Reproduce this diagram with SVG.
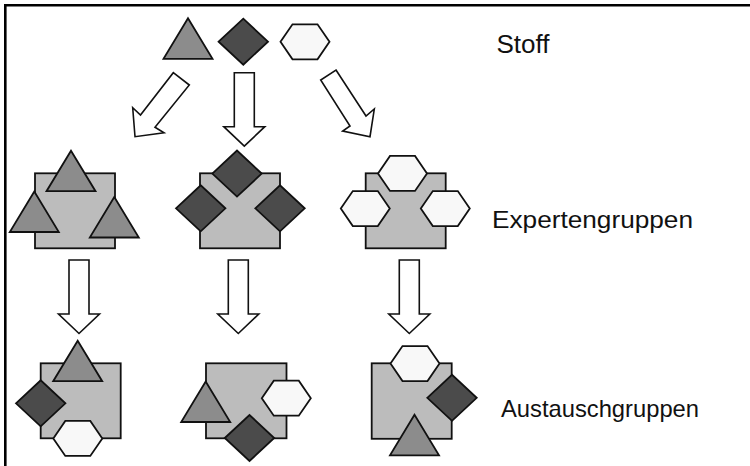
<svg xmlns="http://www.w3.org/2000/svg" xmlns:xlink="http://www.w3.org/1999/xlink" width="750" height="466" viewBox="0 0 750 466">
<style>
.sh{stroke:#111;stroke-width:1.8;stroke-linejoin:miter}
.tri{fill:#8c8c8c}
.dia{fill:#4b4b4b}
.hex{fill:#f8f8f8}
.box{fill:#bcbcbc;stroke:#111;stroke-width:1.8}
.arr{fill:#fff;stroke:#111;stroke-width:1.6;stroke-linejoin:miter}
.lbl{font-family:"Liberation Sans",Arial,sans-serif;fill:#111}
</style>
<defs>
<polygon id="tri" class="sh tri" points="0,0 -24.5,40.5 24.5,40.5"/>
<polygon id="dia" class="sh dia" points="-24.7,0 0,-23 24.7,0 0,23"/>
<polygon id="hex" class="sh hex" points="-24.5,0 -12.5,-17.5 12.5,-17.5 24.5,0 12.5,17.5 -12.5,17.5"/>
<polygon id="down" class="arr" points="-10,0 10,0 10,54 20.5,54 0,73.5 -20.5,54 -10,54"/>
</defs>
<rect width="750" height="466" fill="#fff"/>
<path d="M5.3,466 V5.2 H750" fill="none" stroke="#000" stroke-width="2.6"/>

<g id="stoff">
<use xlink:href="#tri" x="188" y="18.3"/>
<use xlink:href="#dia" x="243.3" y="41.7"/>
<use xlink:href="#hex" x="305" y="41.8"/>
<text class="lbl" x="496.5" y="53" font-size="26">Stoff</text>
</g>

<g id="experte-dreieck">
<rect class="box" x="35" y="173.3" width="80" height="75"/>
<use xlink:href="#tri" x="71" y="150.7"/>
<use xlink:href="#tri" x="34.3" y="191.5"/>
<use xlink:href="#tri" x="114.3" y="197"/>
</g>
<g id="experte-raute">
<rect class="box" x="200" y="173.3" width="80" height="75"/>
<use xlink:href="#dia" x="237" y="173.6"/>
<use xlink:href="#dia" x="200.7" y="208.3"/>
<use xlink:href="#dia" x="280" y="208.3"/>
</g>
<g id="experte-sechseck">
<rect class="box" x="365.7" y="173.3" width="80" height="75"/>
<use xlink:href="#hex" x="402.5" y="173.4"/>
<use xlink:href="#hex" x="365.3" y="208.6"/>
<use xlink:href="#hex" x="445.3" y="208.6"/>
</g>
<text id="label-experten" class="lbl" x="492" y="228.3" font-size="24" textLength="201" lengthAdjust="spacingAndGlyphs">Expertengruppen</text>

<g id="austausch-1">
<rect class="box" x="40.7" y="363.3" width="80" height="75"/>
<use xlink:href="#tri" x="77.7" y="340.7"/>
<use xlink:href="#dia" x="40.7" y="403.3"/>
<use xlink:href="#hex" x="77.8" y="438.4"/>
</g>
<g id="austausch-2">
<rect class="box" x="206" y="363.3" width="80.5" height="75"/>
<use xlink:href="#tri" x="205.7" y="381.5"/>
<use xlink:href="#hex" x="286.3" y="398.2"/>
<use xlink:href="#dia" x="249.5" y="438"/>
</g>
<g id="austausch-3">
<rect class="box" x="371.7" y="363.3" width="80" height="75.5"/>
<use xlink:href="#hex" x="415" y="363.6"/>
<use xlink:href="#dia" x="452" y="397.8"/>
<use xlink:href="#tri" x="414.5" y="414.8"/>
</g>
<text id="label-austausch" class="lbl" x="501" y="416.5" font-size="24" textLength="198" lengthAdjust="spacingAndGlyphs">Austauschgruppen</text>

<g id="connectors">
<polygon class="arr" points="173.3,72.7 189.3,85 155,127.3 164,132.7 135,136.7 132.7,107.7 140.5,115"/>
<use xlink:href="#down" x="244.3" y="72.7"/>
<polygon class="arr" points="336,70 366,116 374.3,109 370,136.7 342.7,131 350,126 320.7,80"/>
<use xlink:href="#down" x="79" y="260"/>
<use xlink:href="#down" x="238.3" y="260"/>
<use xlink:href="#down" x="409.3" y="260"/>
</g>
</svg>
